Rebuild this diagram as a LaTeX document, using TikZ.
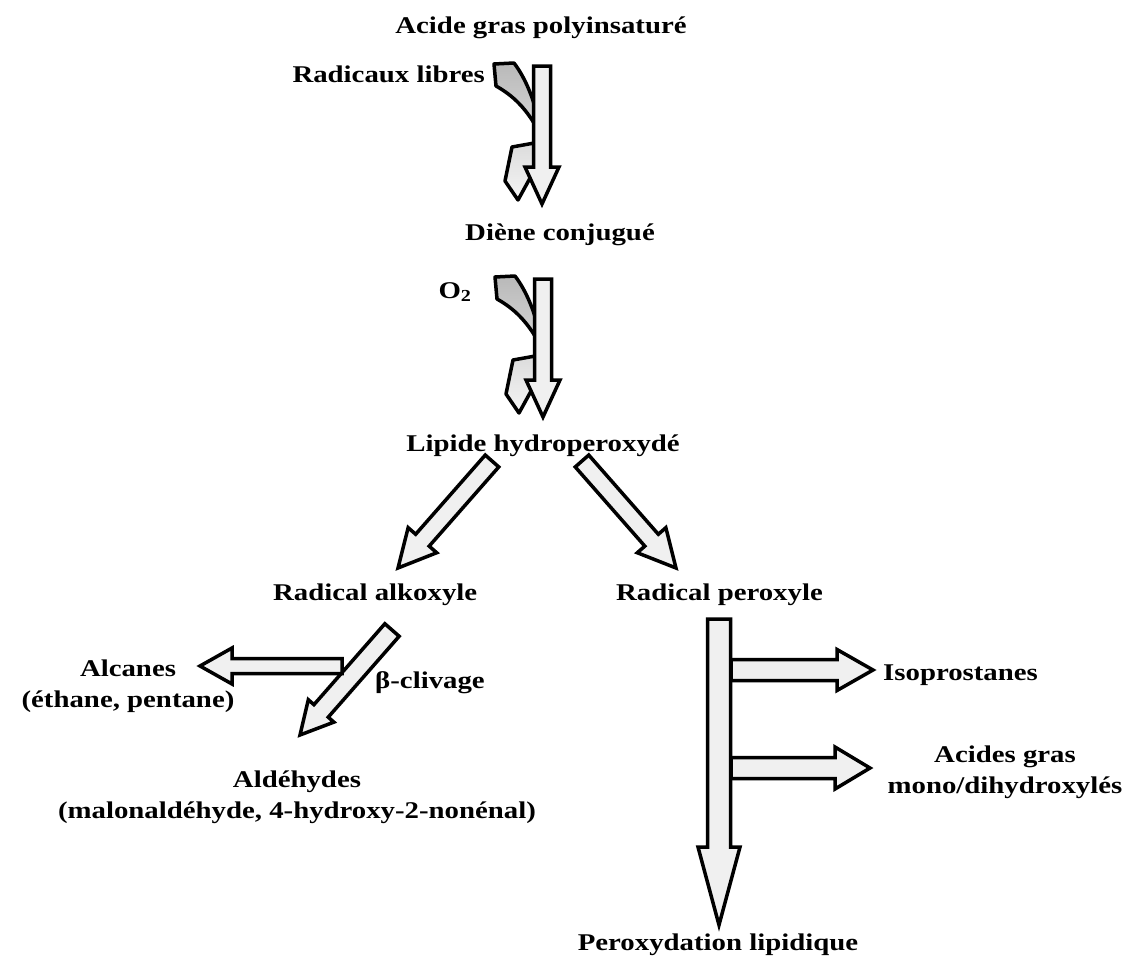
\documentclass[tikz,border=0pt]{standalone}
\usepackage{fontspec}
\setmainfont{Liberation Serif}[FakeStretch=1.2]
\usetikzlibrary{calc}

\newcommand{\fatarrow}[5]{%
  \draw[blockarrow] let \p1=($(#2)-(#1)$), \n1={veclen(\x1,\y1)}, \n2={atan2(\y1,\x1)} in
    [shift={(#1)}, rotate=\n2]
    (0pt,#3pt) -- ({\n1-#5pt},#3pt) -- ({\n1-#5pt},#4pt) -- (\n1,0pt)
    -- ({\n1-#5pt},-#4pt) -- ({\n1-#5pt},-#3pt) -- (0pt,-#3pt) -- cycle;
}

\begin{document}
\begin{tikzpicture}[x=1pt, y=-1pt]
  \tikzset{lbl/.style={font=\fontsize{24}{31}\selectfont\bfseries, inner sep=0pt, align=center},
           blockarrow/.style={draw=black, line width=3.5pt, fill=gray!12, line join=miter},
           curl/.style={draw=black, line width=3.5pt, line join=round, top color=gray!55, bottom color=gray!8},
           curlarrow/.pic={\path[curl] (-48,-2) -- (-28,-3) .. controls (-15,14) and (-6,39) .. (-2,62)
              -- (-2,94) -- (-24,134) -- (-37,115) -- (-30,81) -- (-2,76) -- (-2,68)
              .. controls (-15,42) and (-30,29) .. (-46,20) -- cycle;}}
  \useasboundingbox (0,0) rectangle (1136,961);

  \node[lbl, anchor=base] (acide) at (541,33) {Acide gras polyinsaturé};
  \node[lbl, anchor=base east] (radic) at (485,82) {Radicaux libres};
  \node[lbl, anchor=base] (diene) at (560,240) {Diène conjugué};
  \node[lbl, anchor=base] (oxy) at (455,298) {O\textsubscript{2}};
  \node[lbl, anchor=base] (lipide) at (543,451) {Lipide hydroperoxydé};
  \node[lbl, anchor=base west] (alkox) at (273,600) {Radical alkoxyle};
  \node[lbl, anchor=base east] (perox) at (823,600) {Radical peroxyle};
  \node[lbl] (alcanes) at (128,686) {Alcanes\\(éthane, pentane)};
  \node[lbl, anchor=base west] (clivage) at (375,688) {β-clivage};
  \node[lbl] (aldeh) at (297,797) {Aldéhydes\\(malonaldéhyde, 4-hydroxy-2-nonénal)};
  \node[lbl, anchor=base west] (isopro) at (883,680) {Isoprostanes};
  \node[lbl] (acides) at (1005,772) {Acides gras\\mono/dihydroxylés};
  \node[lbl, anchor=base] (peroxyd) at (718,950) {Peroxydation lipidique};

  \coordinate (s1a) at (542,66);  \coordinate (s1b) at (542,204);
  \coordinate (s2a) at (543,279); \coordinate (s2b) at (543,417);
  \coordinate (a1a) at (492,461); \coordinate (a1b) at (398,568);
  \coordinate (a2a) at (582,461); \coordinate (a2b) at (676,568);
  \coordinate (a3a) at (392,630); \coordinate (a3b) at (300,735);
  \coordinate (a4a) at (342,666); \coordinate (a4b) at (200,666);
  \coordinate (pa) at (719,619);  \coordinate (pb) at (719,925);
  \coordinate (b1a) at (731,670); \coordinate (b1b) at (873,670);
  \coordinate (b2a) at (731,768); \coordinate (b2b) at (870,768);

  \pic at (s1a) {curlarrow};
  \fatarrow{s1a}{s1b}{8.5}{17}{37}
  \pic at (s2a) {curlarrow};
  \fatarrow{s2a}{s2b}{8.5}{17}{37}
  \fatarrow{a1a}{a1b}{9}{19}{37}
  \fatarrow{a2a}{a2b}{9}{19}{37}
  \fatarrow{a3a}{a3b}{9.5}{17}{32}
  \fatarrow{a4a}{a4b}{7.5}{18}{32}
  \fatarrow{pa}{pb}{11.5}{21}{78}
  \fatarrow{b1a}{b1b}{10.5}{20.5}{36}
  \fatarrow{b2a}{b2b}{10.5}{21}{35}
\end{tikzpicture}
\end{document}
